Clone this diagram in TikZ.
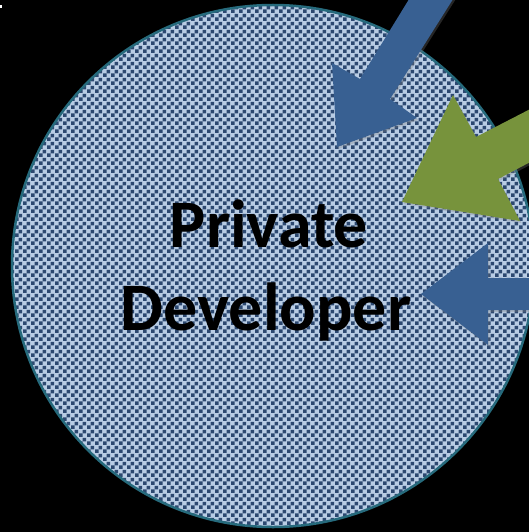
\documentclass[tikz,border=0pt]{standalone}
\usepackage{fontspec}
\setmainfont{Carlito}
\usetikzlibrary{patterns.meta, shadows}
\definecolor{chkdark}{RGB}{44,72,112}
\definecolor{chklight}{RGB}{184,204,228}
\definecolor{rimteal}{RGB}{38,106,124}
\definecolor{arrowblue}{RGB}{56,96,146}
\definecolor{arrowgreen}{RGB}{119,147,60}
\tikzdeclarepattern{name=chequer, type=uncolored,
  bounding box={(0pt,0pt) and (7.6pt,7.6pt)}, tile size={(7.6pt,7.6pt)},
  code={\fill (0pt,0pt) rectangle (3.8pt,3.8pt); \fill (3.8pt,3.8pt) rectangle (7.6pt,7.6pt);}}
\tikzstyle{bubble} = [circle, draw=rimteal, line width=2.5pt, minimum size=522pt, inner sep=0pt, preaction={fill=chklight}, pattern=chequer, pattern color=chkdark]
\tikzstyle{bigtext} = [font=\bfseries\fontsize{68}{83}\selectfont, text=black, inner sep=0pt, anchor=base]
\tikzstyle{blockarrow} = [draw=none, drop shadow={shadow xshift=1.5pt, shadow yshift=-2pt, opacity=.3}]

\begin{document}
\begin{tikzpicture}[x=1pt, y=-1pt]

\fill[black] (0,0) rectangle (529,532);
\useasboundingbox (0,0) rectangle (529,532);
\fill[white] (0,5) rectangle (2,8);

% Nodes
\node (dev) [bubble] at (273,266) {};
\node (private) [bigtext] at (269,247) {Private};
\node (developer) [bigtext] at (266,330) {Developer};

% Arrows
\fill[arrowblue, blockarrow] (411,-4) -- (360,79) -- (332,63) -- (337,147) -- (417,118) -- (390,99) -- (455,-4) -- cycle;
\fill[arrowgreen, blockarrow] (540,104) -- (476,137) -- (453,95) -- (402,202) -- (520,221) -- (498,179) -- (540,157) -- cycle;
\fill[arrowblue, blockarrow] (535,278) -- (488,278) -- (488,243) -- (421,294) -- (488,345) -- (488,310) -- (535,310) -- cycle;

\end{tikzpicture}
\end{document}
